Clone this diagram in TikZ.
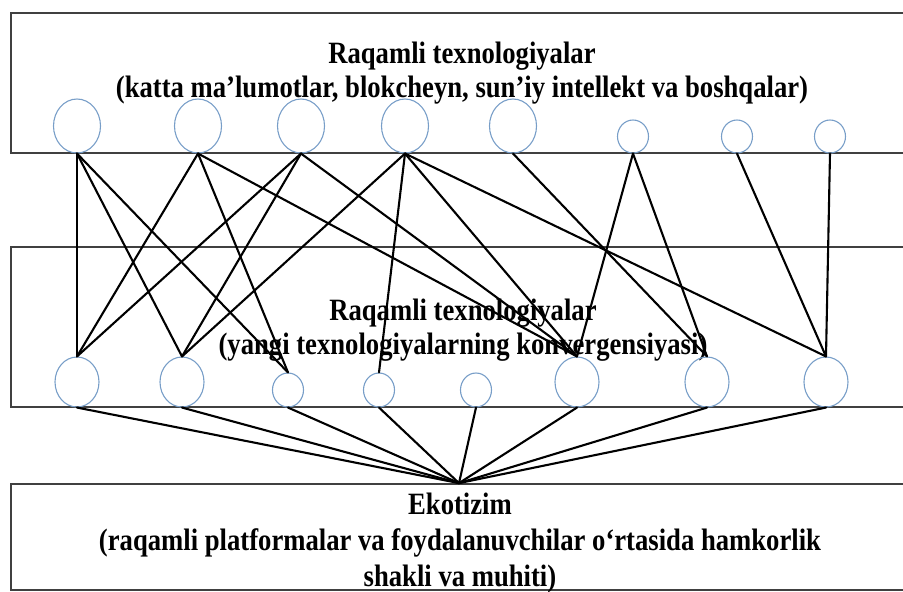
\documentclass[tikz,border=0pt]{standalone}
\usepackage{fontspec}
\setmainfont{Liberation Serif}[FakeStretch=0.86]
\usetikzlibrary{shapes.geometric}

\begin{document}
\begin{tikzpicture}[x=1pt,y=-1pt,
    panel/.style={draw=black!75,line width=1.8pt,minimum width=896pt,inner sep=0},
    caption/.style={align=center,inner sep=0,font=\fontsize{31}{34}\selectfont\bfseries},
    bubble/.style={ellipse,draw={rgb,255:red,120;green,158;blue,200},line width=1.1pt,inner sep=0},
    link/.style={line width=2.1pt,line cap=round}]
    \pgfmathsetmacro{\topline}{153}
    \pgfmathsetmacro{\midline}{407}
    \useasboundingbox (0,0) rectangle (903,592);
    \clip (0,0) rectangle (903,592);
    % the three layers
    \node[panel,minimum height=140pt] (techbox) at (459,83) {};
    \node[panel,minimum height=160pt] (convbox) at (459,327) {};
    \node[panel,minimum height=106pt] (ecobox) at (459,537) {};
    \node[caption] (techtext) at (462,73) {Raqamli texnologiyalar\\(katta ma’lumotlar, blokcheyn, sun’iy intellekt va boshqalar)};
    \node[caption] (convtext) at (463,330) {Raqamli texnologiyalar\\(yangi texnologiyalarning konvergensiyasi)};
    \node[caption,font=\fontsize{31}{36}\selectfont\bfseries] (ecotext) at (460,543) {Ekotizim\\(raqamli platformalar va foydalanuvchilar o‘rtasida hamkorlik\\shakli va muhiti)};
    % technologies
    \foreach \x/\w/\h [count=\i] in {77/47/54,198/47/54,301/47/54,405/47/54,513/47/54,633/31/33,737/31/33,830/31/33}
        \node[bubble,minimum width=\w pt,minimum height=\h pt] (t\i) at (\x,{\topline-\h/2}) {};
    % converged technologies
    \foreach \x/\w/\h [count=\i] in {77/44/50,182/44/50,288/31/34,379/31/34,476/31/34,577/44/50,707/44/50,826/44/50}
        \node[bubble,minimum width=\w pt,minimum height=\h pt] (b\i) at (\x,{\midline-\h/2}) {};
    \foreach \a/\b in {1/1,1/2,1/3,2/1,2/3,2/6,3/1,3/2,3/6,4/2,4/4,4/6,4/8,5/7,6/6,6/7,7/8,8/8}
        \draw[link] (t\a.south) -- (b\b.north);
    \foreach \i in {1,...,8}
        \draw[link] (b\i.south) -- (ecobox.north);
\end{tikzpicture}
\end{document}
